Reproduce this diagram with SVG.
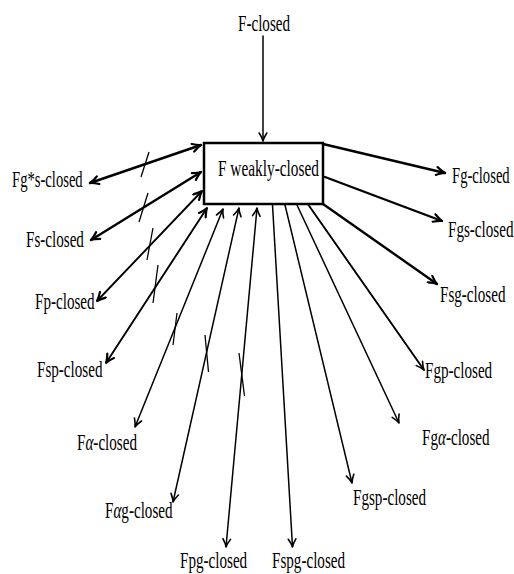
<svg xmlns="http://www.w3.org/2000/svg" width="514" height="574" viewBox="0 0 514 574">
<style>
.lbl{font-family:"Liberation Serif","Times New Roman",serif;font-size:24px;fill:#000}
.al{font-style:italic}
.c{fill:none;stroke:#000;stroke-linecap:round}
.th{stroke-width:2.4}
.md{stroke-width:1.9}
.tn{stroke-width:1.5}
.st{fill:none;stroke:#000;stroke-width:1.3}
</style>
<defs>
<marker id="ah" markerUnits="userSpaceOnUse" viewBox="-10 -5 12 10" refX="0" refY="0" markerWidth="12" markerHeight="10" orient="auto-start-reverse">
<path d="M-8,-3.8 Q-3,-0.6 0,0 Q-3,0.6 -8,3.8" fill="none" stroke="#000" stroke-width="1.6" stroke-linecap="round"/>
</marker>
<marker id="ahb" markerUnits="userSpaceOnUse" viewBox="-10 -5 12 10" refX="0" refY="0" markerWidth="12" markerHeight="10" orient="auto-start-reverse">
<path d="M-8.5,-4 Q-3,-0.7 0,0 Q-3,0.7 -8.5,4" fill="none" stroke="#000" stroke-width="2.2" stroke-linecap="round"/>
</marker>
</defs>
<g id="connectors">
<line class="c tn" x1="263" y1="36" x2="263" y2="141" marker-end="url(#ah)"/>
<line class="c th" x1="90" y1="183" x2="201" y2="145" marker-start="url(#ahb)" marker-end="url(#ahb)"/>
<line class="c th" x1="91" y1="240" x2="201" y2="172" marker-start="url(#ahb)" marker-end="url(#ahb)"/>
<line class="c md" x1="97" y1="301" x2="202" y2="191" marker-start="url(#ahb)" marker-end="url(#ahb)"/>
<line class="c md" x1="106" y1="363" x2="207" y2="208" marker-start="url(#ahb)" marker-end="url(#ahb)"/>
<line class="c tn" x1="135" y1="427" x2="223" y2="209" marker-start="url(#ah)" marker-end="url(#ah)"/>
<line class="c tn" x1="173" y1="502" x2="239" y2="208" marker-start="url(#ah)" marker-end="url(#ah)"/>
<line class="c tn" x1="226" y1="547" x2="257" y2="208" marker-start="url(#ah)" marker-end="url(#ah)"/>
<line class="c tn" x1="272.5" y1="205" x2="292.5" y2="547" marker-end="url(#ah)"/>
<line class="c tn" x1="285" y1="205" x2="352" y2="483" marker-end="url(#ah)"/>
<line class="c tn" x1="297" y1="205" x2="399" y2="423" marker-end="url(#ah)"/>
<line class="c md" x1="308.5" y1="205" x2="424" y2="370" marker-end="url(#ah)"/>
<line class="c th" x1="323" y1="204" x2="437" y2="284" marker-end="url(#ahb)"/>
<line class="c th" x1="325" y1="177" x2="442" y2="221" marker-end="url(#ahb)"/>
<line class="c th" x1="323" y1="144" x2="445" y2="173" marker-end="url(#ahb)"/>
<g id="strikes">
<line class="st" x1="149" y1="152" x2="141" y2="177"/>
<line class="st" x1="148" y1="193" x2="139" y2="222"/>
<line class="st" x1="153" y1="228" x2="147" y2="260"/>
<line class="st" x1="158" y1="265" x2="153" y2="303"/>
<line class="st" x1="177" y1="313" x2="173" y2="345"/>
<line class="st" x1="205" y1="335" x2="208.5" y2="372"/>
<line class="st" x1="239" y1="353" x2="244.5" y2="396"/>
</g>
</g>
<g id="n-weak">
<rect x="204" y="143" width="119" height="61" fill="#fff" stroke="#000" stroke-width="2.5"/>
<text class="lbl" transform="translate(218,176) scale(0.64,1)">F weakly-closed</text>
</g>
<g id="n-F"><text class="lbl" transform="translate(238,31) scale(0.63,1)">F-closed</text></g>
<g id="n-Fgstar"><text class="lbl" transform="translate(12,187) scale(0.61,1)">Fg*s-closed</text></g>
<g id="n-Fs"><text class="lbl" transform="translate(26,247) scale(0.63,1)">Fs-closed</text></g>
<g id="n-Fp"><text class="lbl" transform="translate(35,309) scale(0.63,1)">Fp-closed</text></g>
<g id="n-Fsp"><text class="lbl" transform="translate(37,377) scale(0.63,1)">Fsp-closed</text></g>
<g id="n-Fa"><text class="lbl" transform="translate(77,450) scale(0.63,1)">F<tspan class="al">α</tspan>-closed</text></g>
<g id="n-Fag"><text class="lbl" transform="translate(105,518) scale(0.63,1)">F<tspan class="al">α</tspan>g-closed</text></g>
<g id="n-Fpg"><text class="lbl" transform="translate(180,568) scale(0.63,1)">Fpg-closed</text></g>
<g id="n-Fspg"><text class="lbl" transform="translate(272,568) scale(0.63,1)">Fspg-closed</text></g>
<g id="n-Fgsp"><text class="lbl" transform="translate(353,505) scale(0.63,1)">Fgsp-closed</text></g>
<g id="n-Fga"><text class="lbl" transform="translate(422,445) scale(0.63,1)">Fg<tspan class="al">α</tspan>-closed</text></g>
<g id="n-Fgp"><text class="lbl" transform="translate(425,378) scale(0.63,1)">Fgp-closed</text></g>
<g id="n-Fsg"><text class="lbl" transform="translate(440,302) scale(0.63,1)">Fsg-closed</text></g>
<g id="n-Fgs"><text class="lbl" transform="translate(448,237) scale(0.63,1)">Fgs-closed</text></g>
<g id="n-Fg"><text class="lbl" transform="translate(452,183) scale(0.61,1)">Fg-closed</text></g>
</svg>
